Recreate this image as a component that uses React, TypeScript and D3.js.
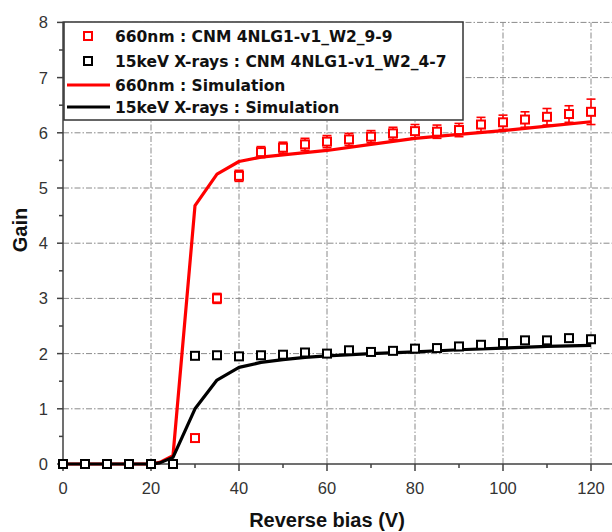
import React from "react";
import * as d3 from "d3";

const volts = [0, 5, 10, 15, 20, 25, 30, 35, 40, 45, 50, 55, 60, 65, 70, 75, 80, 85, 90, 95, 100, 105, 110, 115, 120];
const redGain = [0, 0, 0, 0, 0, 0, 0.47, 3.0, 5.22, 5.65, 5.73, 5.79, 5.84, 5.88, 5.93, 5.99, 6.03, 6.02, 6.05, 6.15, 6.19, 6.24, 6.29, 6.34, 6.38];
const redErr = [0, 0, 0, 0, 0, 0, 0.02, 0.09, 0.1, 0.1, 0.1, 0.11, 0.11, 0.11, 0.11, 0.11, 0.12, 0.12, 0.12, 0.13, 0.13, 0.14, 0.15, 0.15, 0.23];
const blackGain = [0, 0, 0, 0, 0, 0, 1.96, 1.97, 1.95, 1.97, 1.98, 2.02, 2.0, 2.06, 2.03, 2.05, 2.09, 2.1, 2.13, 2.16, 2.19, 2.24, 2.24, 2.28, 2.26];

const simVolts = [0, 5, 10, 15, 20, 22, 25, 30, 35, 40, 45, 50, 55, 60, 70, 80, 90, 100, 110, 120];
const redSim = [0, 0, 0, 0, 0, 0.03, 0.15, 4.68, 5.25, 5.48, 5.56, 5.6, 5.64, 5.68, 5.79, 5.9, 5.97, 6.04, 6.12, 6.2];
const blackSim = [0, 0, 0, 0, 0, 0.02, 0.12, 1.0, 1.52, 1.75, 1.84, 1.89, 1.93, 1.96, 2.0, 2.03, 2.07, 2.1, 2.13, 2.15];

const xTicks = [0, 20, 40, 60, 80, 100, 120];
const xMinor = [10, 30, 50, 70, 90, 110];
const yTicks = [0, 1, 2, 3, 4, 5, 6, 7, 8];
const yMinor = [0.5, 1.5, 2.5, 3.5, 4.5, 5.5, 6.5, 7.5];

const legendLabels = [
  "660nm : CNM 4NLG1-v1_W2_9-9",
  "15keV X-rays : CNM 4NLG1-v1_W2_4-7",
  "660nm : Simulation",
  "15keV X-rays : Simulation",
];

const RED = "#ff0000";
const W = 612;
const H = 532;

export default function App() {
  const x = d3.scaleLinear().domain([0, 120]).range([63, 591]);
  const y = d3.scaleLinear().domain([0, 8]).range([464, 22.4]);
  const xEnd = 612;
  const line = d3
    .line<number>()
    .x((_, i) => x(simVolts[i]))
    .y((d) => y(d));
  const gridDash = "6,2,1.5,2";
  const tickFont = "'Liberation Sans', Arial, sans-serif";
  const legFont = "'DejaVu Sans', Verdana, sans-serif";
  const sq = 8;

  return (
    <svg
      width={W}
      height={H}
      style={{ position: "absolute", left: 0, top: 0, background: "#fff" }}
    >
      <rect x={0} y={0} width={W} height={H} fill="#fff" />
      {/* grid */}
      {xTicks.slice(1).map((t) => (
        <line key={"gx" + t} x1={x(t)} x2={x(t)} y1={y(0)} y2={y(8)} stroke="#8a8a8a" strokeWidth={1} strokeDasharray={gridDash} />
      ))}
      {yTicks.slice(1).map((t) => (
        <line key={"gy" + t} x1={x(0)} x2={xEnd} y1={y(t)} y2={y(t)} stroke="#8a8a8a" strokeWidth={1} strokeDasharray={gridDash} />
      ))}
      {/* axes */}
      <line x1={x(0)} x2={xEnd} y1={y(0)} y2={y(0)} stroke="#404040" strokeWidth={1.5} />
      <line x1={x(0)} x2={x(0)} y1={y(0)} y2={y(8) - 1} stroke="#404040" strokeWidth={1.5} />
      {xTicks.map((t) => (
        <g key={"xt" + t}>
          <line x1={x(t)} x2={x(t)} y1={y(0)} y2={y(0) + 7} stroke="#404040" strokeWidth={1.5} />
          <text x={x(t)} y={494} textAnchor="middle" fontFamily={tickFont} fontSize={16.5} fill="#333">{t}</text>
        </g>
      ))}
      {xMinor.map((t) => (
        <line key={"xm" + t} x1={x(t)} x2={x(t)} y1={y(0)} y2={y(0) + 4} stroke="#404040" strokeWidth={1.5} />
      ))}
      {yTicks.map((t) => (
        <g key={"yt" + t}>
          <line x1={x(0) - 6} x2={x(0)} y1={y(t)} y2={y(t)} stroke="#404040" strokeWidth={1.5} />
          <text x={48} y={y(t) + 6} textAnchor="end" fontFamily={tickFont} fontSize={16.5} fill="#333">{t}</text>
        </g>
      ))}
      {yMinor.map((t) => (
        <line key={"ym" + t} x1={x(0) - 4} x2={x(0)} y1={y(t)} y2={y(t)} stroke="#404040" strokeWidth={1.5} />
      ))}
      {/* titles */}
      <text x={327} y={527} textAnchor="middle" fontFamily={tickFont} fontWeight="bold" fontSize={20} fill="#111">Reverse bias (V)</text>
      <text transform={`translate(27,230) rotate(-90)`} textAnchor="middle" fontFamily={tickFont} fontWeight="bold" fontSize={20} fill="#111">Gain</text>

      {/* simulation lines */}
      <path d={line(redSim) || ""} fill="none" stroke={RED} strokeWidth={3.2} strokeLinejoin="round" />
      <path d={line(blackSim) || ""} fill="none" stroke="#000" strokeWidth={3.2} strokeLinejoin="round" />

      {/* error bars */}
      {volts.map((v, i) =>
        redErr[i] > 0.03 ? (
          <g key={"eb" + v} stroke={RED} strokeWidth={1.6}>
            <line x1={x(v)} x2={x(v)} y1={y(redGain[i] - redErr[i])} y2={y(redGain[i] + redErr[i])} />
            <line x1={x(v) - 4.5} x2={x(v) + 4.5} y1={y(redGain[i] + redErr[i])} y2={y(redGain[i] + redErr[i])} />
            <line x1={x(v) - 4.5} x2={x(v) + 4.5} y1={y(redGain[i] - redErr[i])} y2={y(redGain[i] - redErr[i])} />
          </g>
        ) : null
      )}
      {/* data squares */}
      {volts.map((v, i) => (
        <rect key={"rs" + v} x={x(v) - sq / 2} y={y(redGain[i]) - sq / 2} width={sq} height={sq} fill="#fff" stroke={RED} strokeWidth={2} />
      ))}
      {volts.map((v, i) => (
        <rect key={"bs" + v} x={x(v) - sq / 2} y={y(blackGain[i]) - sq / 2} width={sq} height={sq} fill="#fff" stroke="#000" strokeWidth={2} />
      ))}

      {/* legend */}
      <rect x={64} y={22} width={399} height={98} fill="#fff" stroke="#333" strokeWidth={1.5} />
      <rect x={88 - 4} y={36 - 4} width={8} height={8} fill="#fff" stroke={RED} strokeWidth={2} />
      <rect x={88 - 4} y={61 - 4} width={8} height={8} fill="#fff" stroke="#000" strokeWidth={2} />
      <line x1={67} x2={110} y1={85} y2={85} stroke={RED} strokeWidth={3.2} />
      <line x1={67} x2={110} y1={107} y2={107} stroke="#000" strokeWidth={3.2} />
      {legendLabels.map((l, i) => (
        <text key={l} x={115} y={[36, 61, 85, 107][i] + 5.5} fontFamily={legFont} fontWeight="bold" fontSize={15.5} fill="#111">{l}</text>
      ))}
    </svg>
  );
}
